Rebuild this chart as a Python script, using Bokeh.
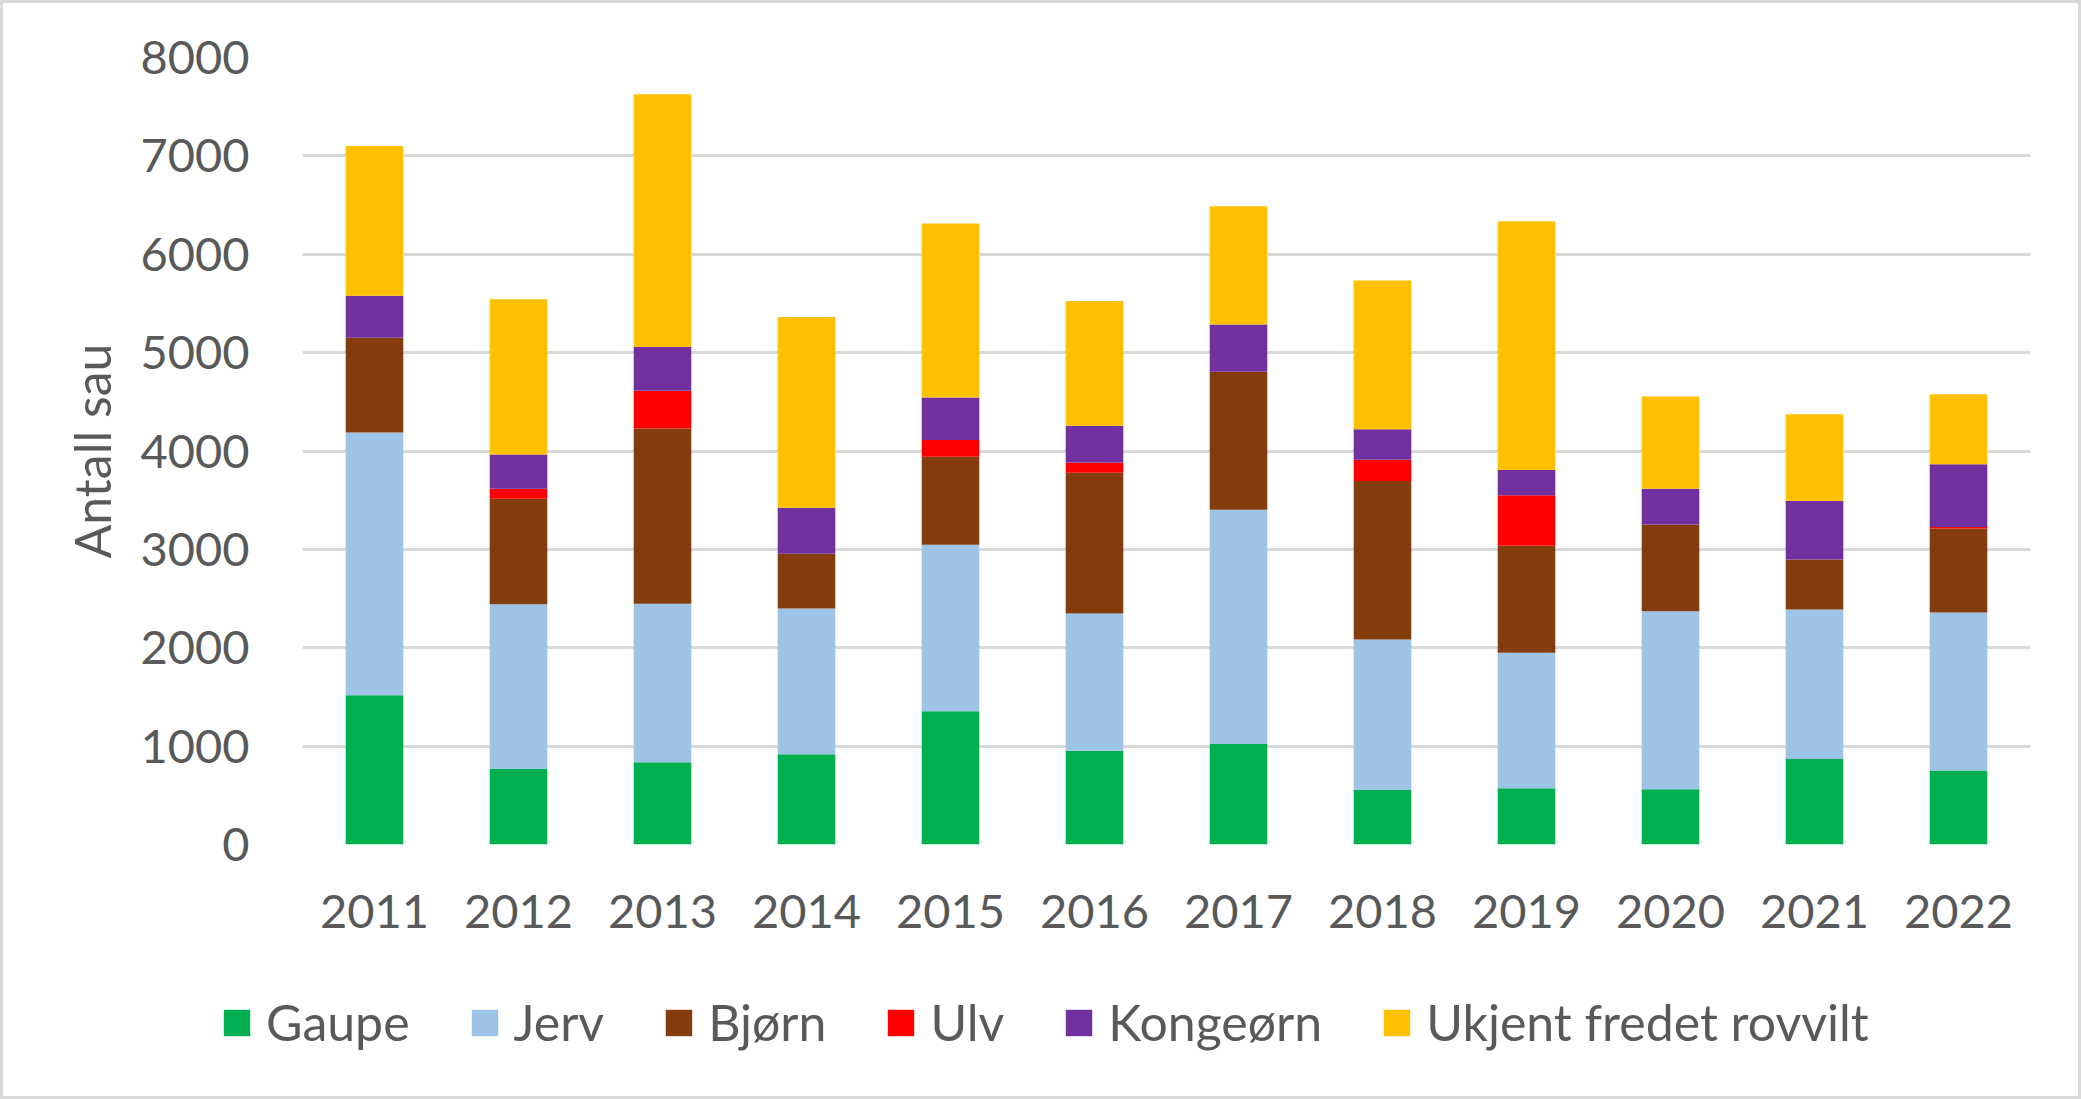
from bokeh.plotting import figure
from bokeh.models import ColumnDataSource, FactorRange, Range1d, FixedTicker, Legend, LegendItem
from bokeh.embed import file_html
from bokeh.resources import INLINE

years = ["2011", "2012", "2013", "2014", "2015", "2016", "2017", "2018", "2019", "2020", "2021", "2022"]
gaupe = [1518, 771, 835, 917, 1355, 952, 1022, 555, 572, 561, 870, 753]
jerv = [2669, 1670, 1612, 1483, 1693, 1395, 2382, 1530, 1378, 1810, 1518, 1606]
bjorn = [963, 1074, 1781, 555, 894, 1431, 1402, 1611, 1086, 882, 508, 853]
ulv = [0, 100, 385, 0, 169, 105, 0, 216, 514, 0, 0, 15]
kongeorn = [427, 350, 444, 467, 432, 374, 479, 310, 257, 362, 596, 639]
ukjent = [1524, 1577, 2569, 1939, 1769, 1267, 1203, 1512, 2529, 940, 882, 712]

series_keys = ["gaupe", "jerv", "bjorn", "ulv", "kongeorn", "ukjent"]
series_labels = ["Gaupe", "Jerv", "Bjørn", "Ulv", "Kongeørn", "Ukjent fredet rovvilt"]
colors = ["#00B050", "#9DC3E6", "#843C0C", "#FF0000", "#7030A0", "#FFC000"]
y_ticks = [0, 1000, 2000, 3000, 4000, 5000, 6000, 7000, 8000]

source = ColumnDataSource(dict(year=years, gaupe=gaupe, jerv=jerv, bjorn=bjorn,
                               ulv=ulv, kongeorn=kongeorn, ukjent=ukjent))

FONT = "Lato"
TXT = "#595959"
FS = "47px"
BC = "#D9D9D9"
W = 2075
H_MAIN = 960
H_LEG = 133

p = figure(x_range=FactorRange(*years), y_range=Range1d(0, 8000),
           width=W, height=H_MAIN, output_backend="svg", toolbar_location=None,
           min_border_left=299, min_border_right=48, min_border_top=54,
           min_border_bottom=H_MAIN - 841)
p.outline_line_color = None
p.background_fill_color = "white"
p.border_fill_color = "white"
p.styles = {"transform": "translate(3px, 3px)",
            "box-shadow": f"-3px 0 0 0 {BC}, 3px 0 0 0 {BC}, 0 -3px 0 0 {BC}, -3px -3px 0 0 {BC}, 3px -3px 0 0 {BC}"}

rs = p.vbar_stack(series_keys, x="year", width=0.4, fill_color=colors, line_color=None, source=source)

p.xgrid.grid_line_color = None
p.ygrid.grid_line_color = BC
p.ygrid.grid_line_width = 3
p.yaxis.ticker = FixedTicker(ticks=y_ticks)

for ax in (p.xaxis[0], p.yaxis[0]):
    ax.axis_line_color = None
    ax.major_tick_line_color = None
    ax.minor_tick_line_color = None
    ax.major_tick_out = 0
    ax.major_tick_in = 0
    ax.major_label_text_font = FONT
    ax.major_label_text_font_size = FS
    ax.major_label_text_color = TXT

p.yaxis.major_label_standoff = 53
p.xaxis.major_label_standoff = 50
p.yaxis.axis_label = "Antall sau"
p.yaxis.axis_label_text_font = FONT
p.yaxis.axis_label_text_font_size = "50px"
p.yaxis.axis_label_text_font_style = "normal"
p.yaxis.axis_label_text_color = TXT
p.yaxis.axis_label_standoff = 15

# legend strip: a second root whose frame covers the whole strip
lp = figure(x_range=Range1d(0, 1), y_range=Range1d(0, 1), width=W, height=H_LEG,
            output_backend="svg", toolbar_location=None,
            min_border_left=0, min_border_right=0, min_border_top=0, min_border_bottom=0)
lp.axis.visible = False
lp.grid.visible = False
lp.outline_line_color = None
lp.background_fill_color = "white"
lp.border_fill_color = "white"
lp.styles = {"transform": "translate(3px, 3px)",
             "box-shadow": f"-3px 0 0 0 {BC}, 3px 0 0 0 {BC}, 0 3px 0 0 {BC}, -3px 3px 0 0 {BC}, 3px 3px 0 0 {BC}"}
offscreen = ColumnDataSource(dict(x=[5], top=[5]))
leg_rs = [lp.vbar(x="x", top="top", width=0.1, fill_color=c, line_color=None, source=offscreen)
          for c in colors]
items = [LegendItem(label=lab, renderers=[r]) for lab, r in zip(series_labels, leg_rs)]
legend = Legend(items=items, location=(217, 44), orientation="horizontal",
                glyph_width=33, glyph_height=33, label_standoff=13, spacing=58,
                padding=0, margin=0, border_line_color=None, background_fill_alpha=0,
                label_text_font=FONT, label_text_font_size="50px", label_text_color=TXT)
lp.add_layout(legend, "center")

open("out.html", "w").write(file_html([p, lp], INLINE))
